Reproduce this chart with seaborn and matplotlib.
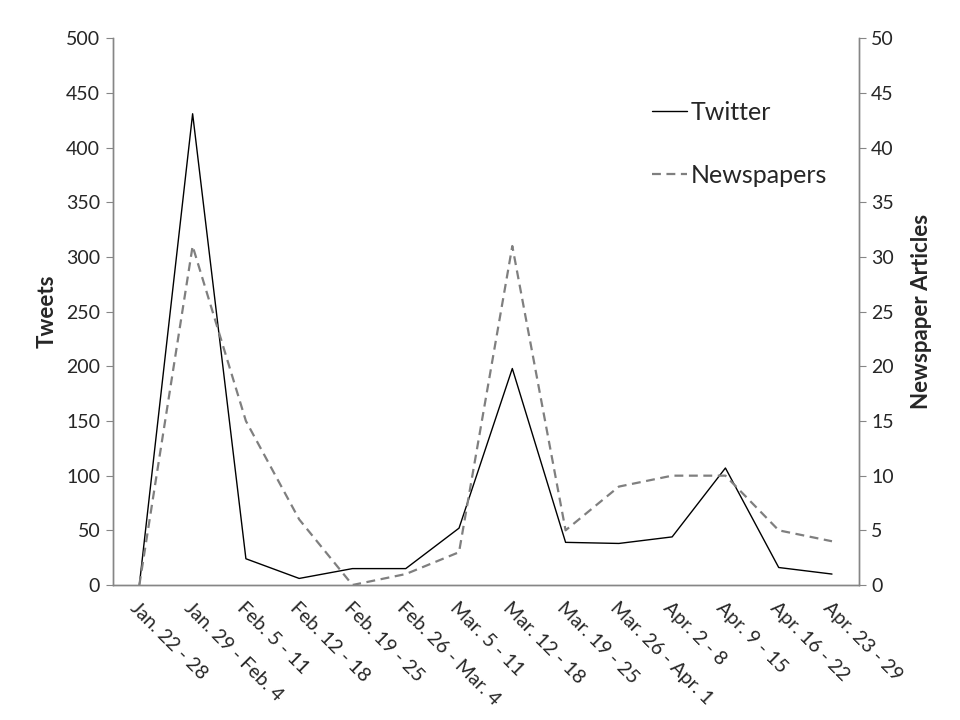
import numpy as np
import pandas as pd
import seaborn as sns
import matplotlib.pyplot as plt

# Données
weeks = ["Jan. 22 - 28", "Jan. 29 - Feb. 4", "Feb. 5 - 11", "Feb. 12 - 18",
         "Feb. 19 - 25", "Feb. 26 - Mar. 4", "Mar. 5 - 11", "Mar. 12 - 18",
         "Mar. 19 - 25", "Mar. 26 - Apr. 1", "Apr. 2 - 8", "Apr. 9 - 15",
         "Apr. 16 - 22", "Apr. 23 - 29"]
tweets = [0, 431, 24, 6, 15, 15, 52, 198, 39, 38, 44, 107, 16, 10]
articles = [0, 31, 15, 6, 0, 1, 3, 31, 5, 9, 10, 10, 5, 4]

df = pd.DataFrame({"pos": np.arange(len(weeks)), "week": weeks,
                   "tweets": tweets, "articles": articles})

sns.set_style("white")
plt.rcParams['font.family'] = ['Lato', 'DejaVu Sans']

axis_grey = "#868686"

fig = plt.figure(figsize=(9.6, 7.2), dpi=100)
ax = fig.add_axes([0.1174, 0.1875, 0.777, 0.7593])
ax2 = ax.twinx()

sns.lineplot(data=df, x="pos", y="tweets", ax=ax, color="black", lw=1.0,
             label="Twitter", legend=False)
sns.lineplot(data=df, x="pos", y="articles", ax=ax2, color="#7f7f7f", lw=1.6,
             ls=(0, (4, 2.5)), label="Newspapers", legend=False)

ax.set_xlim(-0.5, len(weeks) - 0.5)
ax.set_ylim(0, 500)
ax2.set_ylim(0, 50)
ax.set_yticks(np.arange(0, 501, 50))
ax2.set_yticks(np.arange(0, 51, 5))

# ticks aux limites de catégories, étiquettes au centre
ax.set_xticks(np.arange(-0.5, len(weeks), 1.0))
ax.set_xticklabels([])
ax.set_xticks(df["pos"], minor=True)
ax.set_xticklabels(weeks, minor=True, rotation=-45, ha="left", va="top",
                   rotation_mode="anchor", fontsize=14)
ax.tick_params(axis="x", which="minor", length=0, pad=10)
ax.tick_params(axis="x", which="major", length=5, color=axis_grey, direction="out")
ax.tick_params(axis="y", length=5, color=axis_grey, direction="out", labelsize=14, pad=4)
ax2.tick_params(axis="y", length=5, color=axis_grey, direction="out", labelsize=14, pad=4)

for a in (ax, ax2):
    for side in ("left", "bottom", "right"):
        a.spines[side].set_color(axis_grey)
        a.spines[side].set_linewidth(1.0)
    a.spines["top"].set_visible(False)

ax.set_xlabel("")
ax.set_ylabel("Tweets", fontsize=16, fontweight="bold", labelpad=6)
ax2.set_ylabel("Newspaper Articles", fontsize=16, fontweight="bold", labelpad=12)

handles = ax.get_lines()[:1] + ax2.get_lines()[:1]
ax.legend(handles, ["Twitter", "Newspapers"], loc="upper left",
          bbox_to_anchor=(0.723, 0.885), frameon=False, fontsize=18,
          handlelength=1.4, handletextpad=0.15, labelspacing=1.6,
          borderpad=0, borderaxespad=0)

fig.savefig("out.png", dpi=100)
